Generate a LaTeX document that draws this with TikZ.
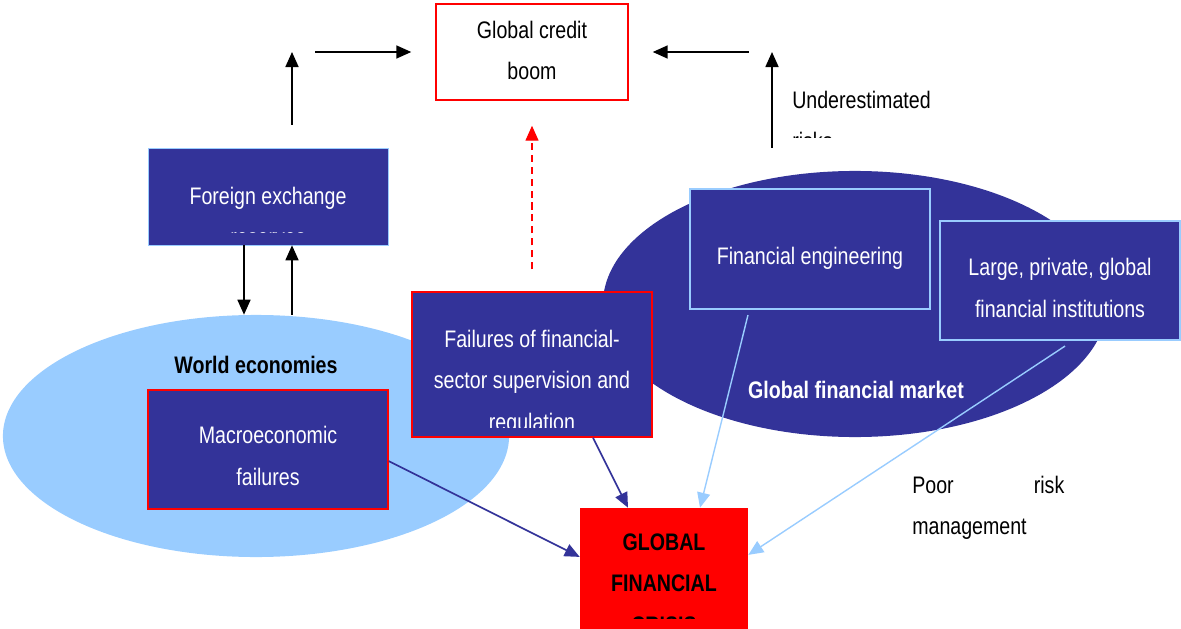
\documentclass[tikz,border=0pt]{standalone}
\usepackage{fontspec}
\setmainfont[FakeStretch=0.82]{Liberation Sans}
\usetikzlibrary{arrows.meta,shapes.geometric}

\definecolor{navy}{HTML}{333399}
\definecolor{sky}{HTML}{99CCFF}

\begin{document}
\begin{tikzpicture}[x=0.025cm, y=-0.025cm,
    txt/.style={font=\fontsize{17}{29.2}\selectfont, align=center, anchor=base, inner sep=0pt},
    bold/.style={txt, font=\fontsize{17}{29.2}\selectfont\bfseries},
    box/.style={fill=navy, inner sep=0pt, minimum width=6cm},
    blk/.style={-{Triangle[length=0.375cm, width=0.325cm]}, line width=1.2pt},
    navyarrow/.style={blk, navy},
    skyarrow/.style={blk, sky, line width=1pt},]
    \useasboundingbox (0,0) rectangle (1181,629);

    % background areas
    \node[ellipse, fill=sky, inner sep=0pt, minimum width=12.65cm, minimum height=6.05cm] (world) at (256,436) {};
    \node[ellipse, fill=navy, inner sep=0pt, minimum width=12.6cm, minimum height=6.65cm] (market) at (855,304) {};
    \node[bold] (worldlbl) at (256,373) {World economies};
    \node[bold, text=white] (marketlbl) at (856,398) {Global financial market};

    % boxes
    \node[draw=red, line width=1pt, inner sep=0pt, minimum width=4.8cm, minimum height=2.4cm] (credit) at (532,52) {};
    \node[box, draw=sky, line width=0.4pt, minimum height=2.425cm] (fx) at (268,196.5) {};
    \node[box, draw=red, line width=1pt, minimum height=2.975cm] (macro) at (268,449.5) {};
    \node[box, draw=red, line width=1pt, minimum height=3.625cm] (fail) at (532,364.5) {};
    \node[box, draw=sky, line width=1.5pt, minimum height=3cm] (fineng) at (810,249) {};
    \node[box, draw=sky, line width=1.5pt, minimum height=2.975cm] (large) at (1060,280.5) {};
    \node[fill=red, inner sep=0pt, minimum width=4.2cm, minimum height=3.025cm] (crisis) at (664,568.5) {};

    % box texts (anchored on the last line)
    \node[txt] (credittxt) at (532,80) {Global credit\\boom};
    \node[txt, text=white] (macrotxt) at (268,485) {Macroeconomic\\failures};
    \node[txt, text=white] (finengtxt) at (810,264) {Financial engineering};
    \node[txt, text=white] (largetxt) at (1060,317) {Large, private, global\\financial institutions};
    \begin{scope}
        \clip (fx.north west) rectangle ([yshift=0.32cm]fx.south east);
        \node[txt, text=white] (fxtxt) at (268,246) {Foreign exchange\\reserves};
    \end{scope}
    \begin{scope}
        \clip (fail.north west) rectangle ([yshift=0.25cm]fail.south east);
        \node[txt, text=white] (failtxt) at (532,430) {Failures of financial-\\sector supervision and\\regulation};
    \end{scope}
    \begin{scope}
        \clip (crisis.north west) rectangle ([yshift=0.275cm]crisis.south east);
        \node[bold] (crisistxt) at (664,633) {GLOBAL\\FINANCIAL\\CRISIS};
    \end{scope}
    \begin{scope}
        \clip (780,80) rectangle (960,138);
        \node[txt, anchor=base west, align=left] (risktxt) at (792,150) {Underestimated\\risks};
    \end{scope}
    \node[txt, anchor=base west, align=left, text width=3.8cm] (poortxt) at (912,493) {Poor\hfill risk\\management};

    % arrows into the credit boom
    \coordinate (lbase) at (292,125);
    \coordinate (rbase) at (772,148);
    \draw[blk] (lbase) -- (lbase |- credit);
    \draw[blk] ([xshift=-3cm]credit.west) -- ([xshift=-0.6cm]credit.west);
    \draw[blk] (rbase) -- (rbase |- credit);
    \draw[blk] ([xshift=3cm]credit.east) -- ([xshift=0.6cm]credit.east);
    \draw[blk, red, line width=1pt, dash pattern=on 5pt off 3.5pt] ([yshift=0.55cm]fail.north) -- ([yshift=-0.625cm]credit.south);

    % reserves and world economies
    \draw[blk] ([xshift=-0.6cm]fx.south) -- ([xshift=-0.6cm]fx.south |- world.north);
    \draw[blk] ([xshift=0.6cm]fx.south |- world.north) -- ([xshift=0.6cm]fx.south);

    % arrows into the crisis
    \draw[navyarrow] ([yshift=-0.29cm]macro.east) -- ([yshift=0.29cm]crisis.west);
    \draw[navyarrow] ([xshift=1.525cm]fail.south) -- ([xshift=-0.9cm]crisis.north);
    \draw[skyarrow] ([xshift=-1.55cm, yshift=-0.125cm]fineng.south) -- ([xshift=0.9cm]crisis.north);
    \draw[skyarrow] ([xshift=0.125cm, yshift=-0.125cm]large.south) -- ([yshift=0.34cm]crisis.east);
\end{tikzpicture}
\end{document}
